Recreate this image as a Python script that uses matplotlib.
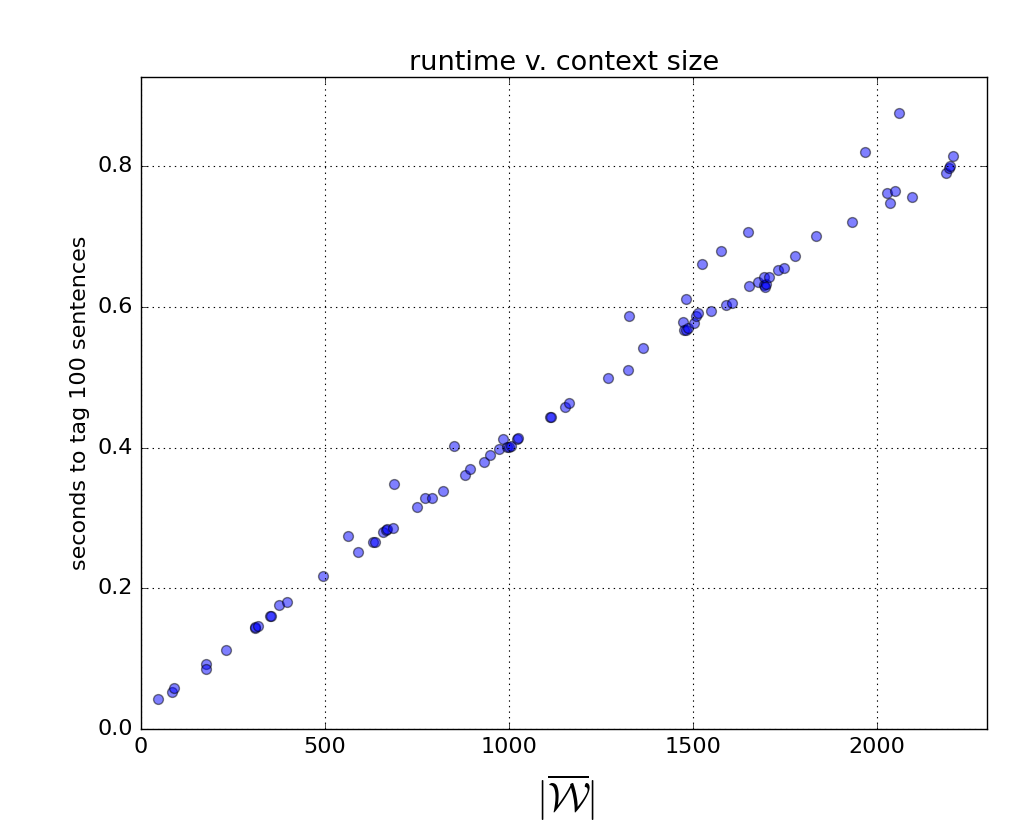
import matplotlib
matplotlib.use("Agg")
import matplotlib.pyplot as plt

plt.style.use("classic")
plt.rcParams["mathtext.fontset"] = "cm"

context_size = [46, 83, 91, 177, 177, 232, 309, 311, 319, 350, 354, 376, 398, 495,
                562, 591, 631, 637, 659, 666, 668, 686, 688, 749, 773, 791, 820, 851,
                880, 894, 932, 950, 973, 984, 995, 1000, 1005, 1022, 1025, 1112, 1115,
                1154, 1163, 1269, 1324, 1328, 1366, 1474, 1476, 1481, 1483, 1486,
                1503, 1508, 1515, 1525, 1551, 1577, 1590, 1606, 1651, 1652, 1677,
                1694, 1697, 1699, 1694, 1707, 1732, 1747, 1777, 1836, 1932, 1969,
                2029, 2035, 2051, 2062, 2096, 2188, 2197, 2200, 2207]
seconds = [0.042, 0.053, 0.058, 0.092, 0.085, 0.112, 0.144, 0.145, 0.147, 0.160, 0.161,
           0.177, 0.181, 0.217, 0.274, 0.251, 0.266, 0.266, 0.280, 0.283, 0.284, 0.286,
           0.349, 0.315, 0.328, 0.328, 0.338, 0.402, 0.361, 0.369, 0.379, 0.390, 0.398,
           0.412, 0.401, 0.401, 0.402, 0.413, 0.414, 0.443, 0.443, 0.458, 0.464, 0.499,
           0.511, 0.587, 0.542, 0.579, 0.567, 0.612, 0.568, 0.570, 0.577, 0.587, 0.591,
           0.661, 0.595, 0.680, 0.603, 0.606, 0.707, 0.630, 0.635, 0.631, 0.628, 0.632,
           0.642, 0.643, 0.653, 0.655, 0.672, 0.701, 0.721, 0.820, 0.762, 0.748, 0.765,
           0.876, 0.756, 0.790, 0.798, 0.800, 0.814]

fig = plt.figure(figsize=(10.24, 8.32), dpi=100, facecolor="white")
ax = fig.add_axes([141/1024, 1 - 729/832, (987-141)/1024, (729-77)/832])
ax.scatter(context_size, seconds, s=50, c="b", alpha=0.5, edgecolors="k", linewidths=1)
ax.set_xlim(0, 2300)
ax.set_ylim(0, 0.927)
ax.set_xticks([0, 500, 1000, 1500, 2000])
ax.set_yticks([0.0, 0.2, 0.4, 0.6, 0.8])
ax.grid(True, linestyle=":", color="k", linewidth=0.8)
ax.tick_params(labelsize=16, pad=6)
ax.set_title("runtime v. context size", fontsize=19.5)
ax.set_ylabel("seconds to tag 100 sentences", fontsize=16)
fig.text(566/1024, 1 - 798/832, r"$|\overline{\mathcal{W}}|$", fontsize=29,
         ha="center", va="center")
fig.savefig("out.png", dpi=100, facecolor="white")
